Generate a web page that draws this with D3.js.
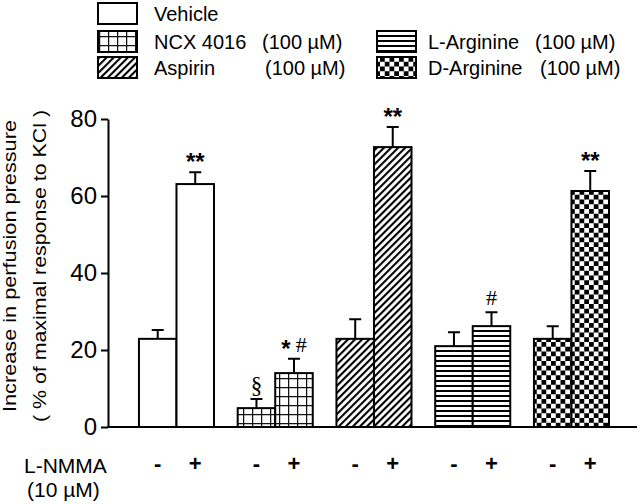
<!DOCTYPE html>
<html><head><meta charset="utf-8">
<script src="https://cdn.jsdelivr.net/npm/d3@7/dist/d3.min.js"></script>
<style>body{margin:0;background:#fff}svg{display:block}text{font-family:"Liberation Sans",Arial,sans-serif;fill:#000}</style>
</head><body><svg id="c" width="640" height="504"></svg>
<script>
const groups = ["Vehicle", "NCX 4016", "Aspirin", "L-Arginine", "D-Arginine"];
const legendConc = ["", "(100 µM)", "(100 µM)", "(100 µM)", "(100 µM)"];
const minusVals = [22.9, 4.9, 22.9, 21.0, 22.9];
const minusErr = [2.3, 2.4, 5.1, 3.6, 3.3];
const plusVals = [63.1, 14.0, 72.7, 26.2, 61.3];
const plusErr = [3.1, 3.7, 5.2, 3.6, 5.2];
const minusMarks = ["", "§", "", "", ""];
const plusMarks = ["**", "* #", "**", "#", "**"];
const yTicks = [0, 20, 40, 60, 80];
const treatments = ["-", "+"];
const patterns = ["none", "grid", "diag", "hlines", "check"];

const svg = d3.select("#c");
const defs = svg.append("defs");
let p = defs.append("pattern").attr("id","grid").attr("patternUnits","userSpaceOnUse").attr("width",9).attr("height",9);
p.append("rect").attr("width",9).attr("height",9).attr("fill","#fff");
p.append("path").attr("d","M0,0.6H9M0.6,0V9").attr("stroke","#111").attr("stroke-width",1.3);
p = defs.append("pattern").attr("id","diag").attr("patternUnits","userSpaceOnUse").attr("width",5).attr("height",5).attr("patternTransform","rotate(45)");
p.append("rect").attr("width",5).attr("height",5).attr("fill","#fff");
p.append("rect").attr("width",2.1).attr("height",5).attr("fill","#000");
p = defs.append("pattern").attr("id","hlines").attr("patternUnits","userSpaceOnUse").attr("width",5).attr("height",5);
p.append("rect").attr("width",5).attr("height",5).attr("fill","#fff");
p.append("rect").attr("width",5).attr("height",2).attr("fill","#000");
p = defs.append("pattern").attr("id","check").attr("patternUnits","userSpaceOnUse").attr("width",9.5).attr("height",9.5);
p.append("rect").attr("width",9.5).attr("height",9.5).attr("fill","#fff");
p.append("rect").attr("width",4.75).attr("height",4.75).attr("fill","#000");
p.append("rect").attr("x",4.75).attr("y",4.75).attr("width",4.75).attr("height",4.75).attr("fill","#000");
const fillOf = i => patterns[i] === "none" ? "#fff" : `url(#${patterns[i]})`;

const x0 = 108, x1 = 637;
const x = d3.scaleBand().domain(groups).range([x0, x1]).paddingInner(0.24).paddingOuter(0.2985).align(0.525);
const xs = d3.scaleBand().domain(treatments).range([0, x.bandwidth()]);
const y = d3.scaleLinear().domain([0, 80]).range([427, 119]);

const ya = svg.append("g").attr("transform",`translate(${x0},0)`)
  .call(d3.axisLeft(y).tickValues(yTicks).tickSize(7).tickPadding(4).tickSizeOuter(0));
ya.select(".domain").attr("stroke","#000").attr("stroke-width",2);
ya.selectAll(".tick line").attr("stroke","#000").attr("stroke-width",2);
ya.selectAll(".tick text").attr("font-size",24).attr("font-family","Liberation Sans, Arial, sans-serif").attr("fill","#000");

svg.append("text").attr("transform","translate(16,266) rotate(-90)").attr("text-anchor","middle")
  .attr("font-size",18).attr("textLength",292).attr("lengthAdjust","spacingAndGlyphs").text("Increase in perfusion pressure");
svg.append("text").attr("transform","translate(46,266) rotate(-90)").attr("text-anchor","middle")
  .attr("font-size",18).attr("textLength",312).attr("lengthAdjust","spacingAndGlyphs").text("( % of maximal response to KCl )");

const data = [];
groups.forEach((g, i) => {
  data.push({g, i, t:"-", v:minusVals[i], e:minusErr[i], m:minusMarks[i]});
  data.push({g, i, t:"+", v:plusVals[i], e:plusErr[i], m:plusMarks[i]});
});
const bx = d => x(d.g) + xs(d.t);
const bars = svg.append("g");
bars.selectAll(".err").data(data).join("path").attr("class","err")
  .attr("d", d => { const cx = bx(d) + xs.bandwidth()/2; return `M${cx},${y(d.v)}V${y(d.v+d.e)}M${cx-6},${y(d.v+d.e)}H${cx+6}`; })
  .attr("stroke","#000").attr("stroke-width",2).attr("fill","none");
bars.selectAll(".bar").data(data).join("rect").attr("class","bar")
  .attr("x", bx).attr("width", xs.bandwidth())
  .attr("y", d => y(d.v)).attr("height", d => y(0) - y(d.v))
  .attr("fill", d => fillOf(d.i)).attr("stroke","#000").attr("stroke-width",2);

svg.append("line").attr("x1",x0-1).attr("x2",x1).attr("y1",y(0)).attr("y2",y(0)).attr("stroke","#000").attr("stroke-width",2.2);

const marks = svg.append("g");
data.filter(d => d.m).forEach(d => {
  const cx = bx(d) + xs.bandwidth()/2;
  const cy = y(d.v + d.e) - 15;
  const t = marks.append("text").attr("x", cx).attr("y", cy).attr("text-anchor","middle");
  d.m.split("").forEach(ch => {
    if (ch === "*") t.append("tspan").attr("font-size",24).attr("font-weight","bold").attr("baseline-shift","-0.55em").text("*");
    else if (ch === " ") t.append("tspan").attr("font-size",18).text("\u00a0");
    else if (ch === "#") t.append("tspan").attr("font-family","Liberation Serif, Times, serif").attr("font-size",22).attr("baseline-shift","-0.35em").text("#");
    else t.append("tspan").attr("font-family","Liberation Serif, Times, serif").attr("font-size",23).attr("baseline-shift","-0.38em").text(ch);
  });
});

svg.append("g").selectAll("text").data(data).join("text")
  .attr("x", d => bx(d) + xs.bandwidth()/2).attr("y", 471).attr("text-anchor","middle")
  .attr("font-size",22).attr("font-weight","bold").text(d => d.t);
svg.append("text").attr("x",24).attr("y",473).attr("font-size",21).text("L-NMMA");
svg.append("text").attr("x",27).attr("y",497).attr("font-size",21).text("(10 µM)");

const legPos = [
  {bx:98, by:3, tx:154, cx:null},
  {bx:98, by:31, tx:154, cx:262},
  {bx:98, by:57, tx:154, cx:265},
  {bx:377, by:31, tx:428, cx:535},
  {bx:377, by:57, tx:428, cx:540}
];
const leg = svg.append("g");
groups.forEach((g, i) => {
  const L = legPos[i];
  leg.append("rect").attr("x",L.bx).attr("y",L.by).attr("width",39).attr("height",21)
    .attr("fill", fillOf(i)).attr("stroke","#000").attr("stroke-width",2);
  leg.append("text").attr("x",L.tx).attr("y",L.by+18).attr("font-size",20).text(g);
  if (legendConc[i]) leg.append("text").attr("x",L.cx).attr("y",L.by+18).attr("font-size",20).text(legendConc[i]);
});
</script></body></html>
